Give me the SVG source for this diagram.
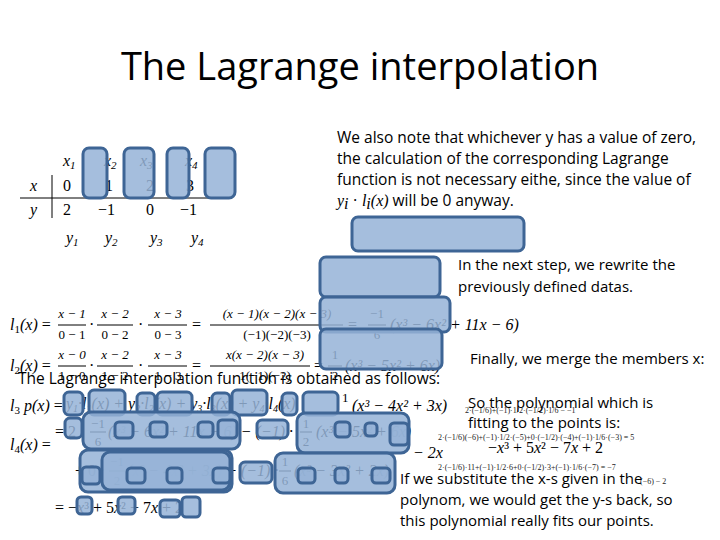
<svg xmlns="http://www.w3.org/2000/svg" width="720" height="540" viewBox="0 0 720 540">
<style>
.t{font-family:"Open Sans","Liberation Sans",sans-serif;fill:#000}
.m{font-family:"Liberation Serif","DejaVu Serif",serif;font-size:16px;fill:#000}
.i{font-style:italic}
.s{font-family:"Liberation Serif",serif;font-size:8px;fill:#222}
.b{fill:#95b3d7;fill-opacity:.85;stroke:#3e6595;stroke-width:3}
.f{font-family:"Liberation Serif",serif;font-size:13px;text-anchor:middle}
</style>
<rect width="720" height="540" fill="#fff"/>
<text class="t" x="360" y="80" font-size="38" text-anchor="middle">The Lagrange interpolation</text>
<g id="note1" class="t" font-size="15.5">
<text x="337" y="143">We also note that whichever y has a value of zero,</text>
<text x="337" y="164">the calculation of the corresponding Lagrange</text>
<text x="337" y="185">function is not necessary eithe, since the value of</text>
<text x="337" y="206"><tspan class="m i">y</tspan><tspan class="m i" font-size="11" dy="3">i</tspan><tspan class="m" dy="-3"> · </tspan><tspan class="m i">l</tspan><tspan class="m i" font-size="11" dy="3">i</tspan><tspan class="m i" dy="-3">(x)</tspan> will be 0 anyway.</text>
</g>
<g id="table" class="m">
<line x1="20" y1="198" x2="213" y2="198" stroke="#000"/>
<line x1="52" y1="175" x2="52" y2="218" stroke="#000"/>
<text x="63" y="166" class="i">x<tspan font-size="11" dy="3">1</tspan></text>
<text x="104" y="166" class="i">x<tspan font-size="11" dy="3">2</tspan></text>
<text x="140" y="166" class="i">x<tspan font-size="11" dy="3">3</tspan></text>
<text x="185" y="166" class="i">x<tspan font-size="11" dy="3">4</tspan></text>
<text x="30" y="191" class="i">x</text><text x="63" y="191">0</text><text x="105" y="191">1</text><text x="146" y="191">2</text><text x="186" y="191">3</text>
<text x="30" y="215" class="i">y</text><text x="63" y="215">2</text><text x="98" y="215">−1</text><text x="146" y="215">0</text><text x="180" y="215">−1</text>
<text x="66" y="243" class="i">y<tspan font-size="11" dy="3">1</tspan></text>
<text x="105" y="243" class="i">y<tspan font-size="11" dy="3">2</tspan></text>
<text x="150" y="243" class="i">y<tspan font-size="11" dy="3">3</tspan></text>
<text x="191" y="243" class="i">y<tspan font-size="11" dy="3">4</tspan></text>
</g>
<g id="l1" class="m">
<text x="10" y="330"><tspan class="i">l</tspan><tspan font-size="11" dy="3">1</tspan><tspan class="i" dy="-3">(x)</tspan> =</text>
<g class="f"><text x="72" y="318" class="i">x − 1</text><text x="72" y="339">0 − 1</text>
<text x="115" y="318" class="i">x − 2</text><text x="115" y="339">0 − 2</text>
<text x="168" y="318" class="i">x − 3</text><text x="168" y="339">0 − 3</text>
<text x="277" y="318" class="i">(x − 1)(x − 2)(x − 3)</text><text x="277" y="339">(−1)(−2)(−3)</text>
<text x="377" y="318">−1</text><text x="377" y="339">6</text></g>
<path d="M58 325H86M97 325H133M148 325H187M210 325H343M368 325H386" stroke="#000"/>
<text x="89" y="330">·</text><text x="138" y="330">·</text><text x="192" y="330">=</text><text x="348" y="330">=</text>
<text x="390" y="330" class="i">(x³ − 6x² + 11x − 6)</text>
</g>
<g id="l2" class="m">
<text x="10" y="371"><tspan class="i">l</tspan><tspan font-size="11" dy="3">2</tspan><tspan class="i" dy="-3">(x)</tspan> =</text>
<g class="f"><text x="72" y="359" class="i">x − 0</text><text x="72" y="380">1 − 0</text>
<text x="115" y="359" class="i">x − 2</text><text x="115" y="380">1 − 2</text>
<text x="168" y="359" class="i">x − 3</text><text x="168" y="380">1 − 3</text>
<text x="265" y="359" class="i">x(x − 2)(x − 3)</text><text x="265" y="380">1(−1)(−2)</text>
<text x="335" y="359">1</text><text x="335" y="380">2</text></g>
<path d="M58 366H86M97 366H133M148 366H187M210 366H310M328 366H342" stroke="#000"/>
<text x="89" y="371">·</text><text x="138" y="371">·</text><text x="192" y="371">=</text><text x="314" y="371">=</text>
<text x="345" y="371" class="i">(x³ − 5x² + 6x)</text>
</g>
<text class="t" x="18" y="384" font-size="15.5">The Lagrange interpolation function is obtained as follows:</text>
<g id="px" class="m">
<text x="10" y="411"><tspan class="i">l</tspan><tspan font-size="11" dy="3">3</tspan><tspan class="i" dy="-3"> p(x)</tspan>  =</text>
<text x="66" y="409" class="i">y<tspan font-size="10" dy="3">1</tspan><tspan dy="-3">·l</tspan><tspan font-size="10" dy="3">1</tspan><tspan dy="-3">(x) + y</tspan><tspan font-size="10" dy="3">2</tspan><tspan dy="-3">·l</tspan><tspan font-size="10" dy="3">2</tspan><tspan dy="-3">(x) + y</tspan><tspan font-size="10" dy="3">3</tspan><tspan dy="-3">·l</tspan><tspan font-size="10" dy="3">3</tspan><tspan dy="-3">(x) + y</tspan><tspan font-size="10" dy="3">4</tspan><tspan dy="-3">·l</tspan><tspan font-size="10" dy="3">4</tspan><tspan dy="-3">(x)</tspan></text>
<text x="342" y="402" font-size="13">1</text><text x="352" y="411" class="i">(x³ − 4x² + 3x)</text>
<text x="55" y="437">= 2 ·</text>
<text x="98" y="428" class="f">−1</text><text x="98" y="446" class="f">6</text><path d="M90 432H106" stroke="#000"/>
<text x="108" y="437" class="i">(x³ − 6x² + 11x − 6) − (−1) ·</text>
<text x="306" y="428" class="f">1</text><text x="306" y="446" class="f">2</text><path d="M300 432H312" stroke="#000"/>
<text x="316" y="437" class="i">(x³ − 5x² + 6x)</text>
<text x="10" y="450"><tspan class="i">l</tspan><tspan font-size="11" dy="3">4</tspan><tspan class="i" dy="-3">(x)</tspan> =</text>
<text x="413" y="458" class="i">− 2x</text>
<text x="75" y="476">+ 0 ·</text>
<text x="117" y="466" class="f">−1</text><text x="117" y="485" class="f">2</text><path d="M109 471H125" stroke="#000"/>
<text x="127" y="476" class="i">(x³ − 4x² + 3x) + (−1) ·</text>
<text x="285" y="466" class="f">1</text><text x="285" y="485" class="f">6</text><path d="M279 471H291" stroke="#000"/>
<text x="294" y="476" class="i">(x³ − 3x² + 2x)</text>
<text x="55" y="513">= −<tspan class="i">x</tspan>³ + 5<tspan class="i">x</tspan>² − 7<tspan class="i">x</tspan> + 2</text>
</g>
<g id="check" class="s">
<text x="465" y="413">2·(−1/6)+(−1)·1/2·(−1/2)·1/6 − −1</text>
<text x="438" y="440">2·(−1/6)(−6)+(−1)·1/2·(−5)+0·(−1/2)·(−4)+(−1)·1/6·(−3) = 5</text>
<text x="438" y="470">2·(−1/6)·11+(−1)·1/2·6+0·(−1/2)·3+(−1)·1/6·(−7) = −7</text>
<text x="640" y="484">(−6) − 2</text>
</g>
<g id="boxes">
<rect class="b" x="83" y="148" width="24" height="50" rx="6"/>
<rect class="b" x="124" y="148" width="30" height="50" rx="6"/>
<rect class="b" x="167" y="148" width="22" height="50" rx="6"/>
<rect class="b" x="205" y="148" width="30" height="50" rx="6"/>
<rect class="b" x="352" y="217" width="172" height="34" rx="6"/>
<rect class="b" x="320" y="257" width="120" height="40" rx="6"/>
<rect class="b" x="320" y="297" width="130" height="35" rx="6"/>
<rect class="b" x="320" y="329" width="122" height="40" rx="6"/>
<rect class="b" x="64" y="392" width="19" height="23" rx="5"/>
<rect class="b" x="89" y="390" width="36" height="25" rx="5"/>
<rect class="b" x="137" y="393" width="18" height="22" rx="5"/>
<rect class="b" x="157" y="392" width="35" height="23" rx="5"/>
<rect class="b" x="212" y="393" width="18" height="22" rx="5"/>
<rect class="b" x="232" y="390" width="35" height="25" rx="5"/>
<rect class="b" x="282" y="393" width="15" height="22" rx="5"/>
<rect class="b" x="303" y="392" width="35" height="23" rx="5"/>
<rect class="b" x="65" y="418" width="17" height="20" rx="5"/>
<rect class="b" x="83" y="412" width="157" height="37" rx="8"/>
<rect class="b" x="115" y="422" width="18" height="16" rx="4"/>
<rect class="b" x="150" y="422" width="17" height="15" rx="4"/>
<rect class="b" x="198" y="422" width="15" height="15" rx="4"/>
<rect class="b" x="218" y="420" width="19" height="18" rx="4"/>
<rect class="b" x="257" y="420" width="31" height="18" rx="5"/>
<rect class="b" x="297" y="413" width="112" height="40" rx="8"/>
<rect class="b" x="335" y="422" width="15" height="15" rx="4"/>
<rect class="b" x="365" y="423" width="12" height="13" rx="4"/>
<rect class="b" x="390" y="423" width="18" height="22" rx="4"/>
<rect class="b" x="80" y="450" width="152" height="42" rx="8"/>
<rect class="b" x="82" y="467" width="18" height="17" rx="4"/>
<rect class="b" x="102" y="452" width="128" height="38" rx="8"/>
<rect class="b" x="127" y="468" width="18" height="15" rx="4"/>
<rect class="b" x="167" y="468" width="15" height="15" rx="4"/>
<rect class="b" x="213" y="468" width="17" height="15" rx="4"/>
<rect class="b" x="240" y="462" width="32" height="21" rx="5"/>
<rect class="b" x="275" y="453" width="120" height="40" rx="8"/>
<rect class="b" x="298" y="468" width="17" height="15" rx="4"/>
<rect class="b" x="335" y="468" width="13" height="15" rx="4"/>
<rect class="b" x="372" y="468" width="18" height="15" rx="4"/>
<rect class="b" x="77" y="497" width="15" height="17" rx="4"/>
<rect class="b" x="118" y="497" width="17" height="17" rx="4"/>
<rect class="b" x="160" y="500" width="20" height="17" rx="4"/>
<rect class="b" x="182" y="497" width="18" height="20" rx="4"/>
</g>
<g id="notes" class="t" font-size="15">
<text x="458" y="270">In the next step, we rewrite the</text>
<text x="458" y="292">previously defined datas.</text>
<text x="470" y="364">Finally, we merge the members x:</text>
<text x="468" y="408">So the polynomial which is</text>
<text x="468" y="428">fitting to the points is:</text>
<text x="400" y="484">If we substitute the x-s given in the</text>
<text x="400" y="505">polynom, we would get the y-s back, so</text>
<text x="400" y="526">this polynomial really fits our points.</text>
</g>
<text class="m" x="488" y="453" font-size="17">−<tspan class="i">x</tspan>³ + 5<tspan class="i">x</tspan>² − 7<tspan class="i">x</tspan> + 2</text>
</svg>
